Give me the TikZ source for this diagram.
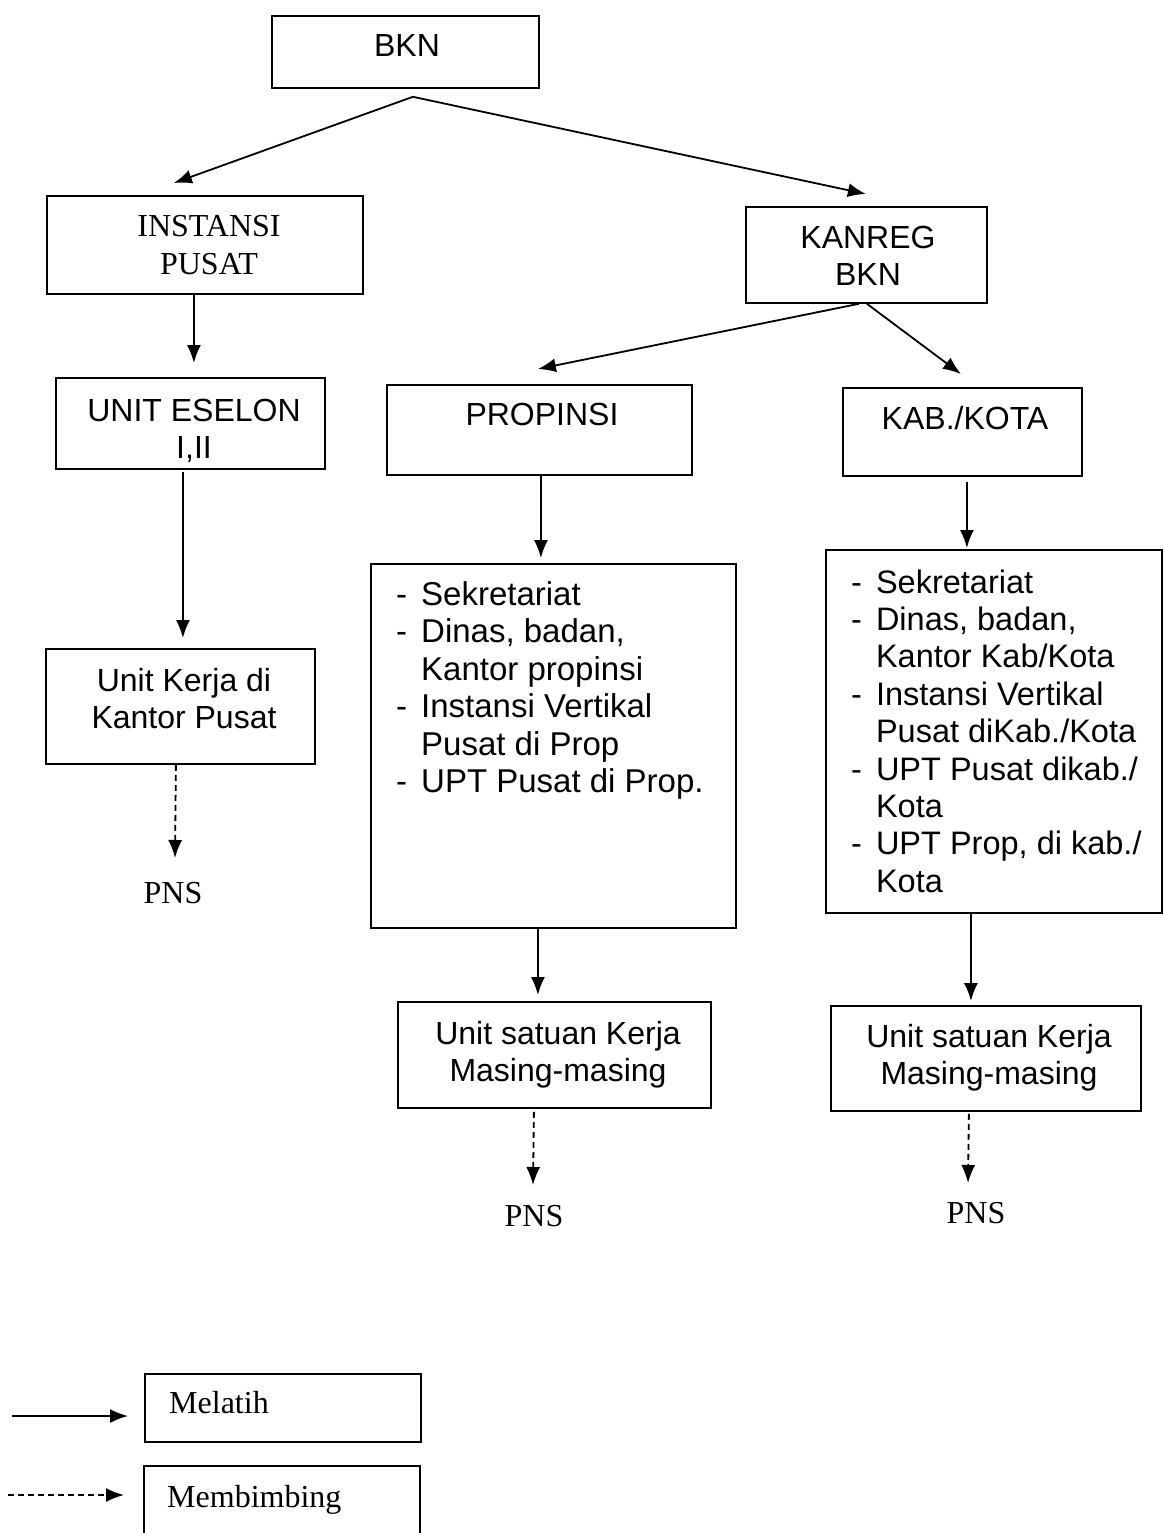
\documentclass[tikz,border=0pt]{standalone}
\usepackage{fontspec}
\setmainfont{Liberation Serif}
\setsansfont{Liberation Sans}
\usetikzlibrary{arrows.meta,calc}
\begin{document}
\begin{tikzpicture}[x=1pt,y=-1pt,
  box/.style={draw,line width=1.8pt,inner sep=0pt,anchor=north west},
  sanstxt/.style={font=\sffamily\fontsize{32}{37.5}\selectfont,inner sep=0pt},
  listtxt/.style={font=\sffamily\fontsize{33}{37.5}\selectfont,inner sep=0pt},
  klisttxt/.style={font=\sffamily\fontsize{32.5}{37.4}\selectfont,inner sep=0pt},
  seriftxt/.style={font=\rmfamily\fontsize{32}{38}\selectfont,inner sep=0pt},
  arr/.style={line width=1.8pt,-{Latex[length=18pt,width=14pt]}},
  darr/.style={arr,dash pattern=on 6pt off 4pt}]
\useasboundingbox (0,0) rectangle (1163,1533);
\fill[white] (0,0) rectangle (1163,1533);

% boxes
\node[box,minimum width=267,minimum height=72] (bkn) at (271,15) {};
\node[box,minimum width=316,minimum height=98] (inst) at (46,195) {};
\node[box,minimum width=241,minimum height=96] (kanreg) at (745,206) {};
\node[box,minimum width=269,minimum height=91] (unit) at (55,377) {};
\node[box,minimum width=305,minimum height=90] (prop) at (386,384) {};
\node[box,minimum width=239,minimum height=88] (kab) at (842,387) {};
\node[box,minimum width=269,minimum height=115] (ukerja) at (45,648) {};
\node[box,minimum width=365,minimum height=364] (plist) at (370,563) {};
\node[box,minimum width=336,minimum height=363] (klist) at (825,549) {};
\node[box,minimum width=313,minimum height=106] (psat) at (397,1001) {};
\node[box,minimum width=310,minimum height=105] (ksat) at (830,1005) {};
\node[box,minimum width=276,minimum height=68] (melatih) at (144,1373) {};
\node[box,minimum width=276,minimum height=80] (membimbing) at (143,1465) {};

% texts
\node[sanstxt,anchor=base] (bkn-t) at (407,57) {BKN};
\node[seriftxt,anchor=base] (inst-t) at (209,236) {\begin{tabular}[t]{@{}c@{}}INSTANSI\\PUSAT\end{tabular}};
\node[sanstxt,anchor=base] (kanreg-t) at (868,248) {\begin{tabular}[t]{@{}c@{}}KANREG\\BKN\end{tabular}};
\node[sanstxt,anchor=base] (unit-t) at (194,421) {\begin{tabular}[t]{@{}c@{}}UNIT ESELON\\I,II\end{tabular}};
\node[sanstxt,anchor=base] (prop-t) at (542,425) {PROPINSI};
\node[sanstxt,anchor=base] (kab-t) at (965,429) {KAB./KOTA};
\node[sanstxt,anchor=base] (ukerja-t) at (184,691) {\begin{tabular}[t]{@{}c@{}}Unit Kerja di\\Kantor Pusat\end{tabular}};
\node[listtxt,anchor=base west] (plist-t) at (396,605) {\begin{tabular}[t]{@{}l@{\hspace{14pt}}l@{}}
-&Sekretariat\\
-&Dinas, badan,\\
 &Kantor propinsi\\
-&Instansi Vertikal\\
 &Pusat di Prop\\
-&UPT Pusat di Prop.
\end{tabular}};
\node[klisttxt,anchor=base west] (klist-t) at (851,593) {\begin{tabular}[t]{@{}l@{\hspace{14pt}}l@{}}
-&Sekretariat\\
-&Dinas, badan,\\
 &Kantor Kab/Kota\\
-&Instansi Vertikal\\
 &Pusat diKab./Kota\\
-&UPT Pusat dikab./\\
 &Kota\\
-&UPT Prop, di kab./\\
 &Kota
\end{tabular}};
\node[sanstxt,anchor=base] (psat-t) at (558,1044) {\begin{tabular}[t]{@{}c@{}}Unit satuan Kerja\\Masing-masing\end{tabular}};
\node[sanstxt,anchor=base] (ksat-t) at (989,1047) {\begin{tabular}[t]{@{}c@{}}Unit satuan Kerja\\Masing-masing\end{tabular}};
\node[seriftxt,anchor=base] (pns1) at (173,903) {PNS};
\node[seriftxt,anchor=base] (pns2) at (534,1226) {PNS};
\node[seriftxt,anchor=base] (pns3) at (976,1223) {PNS};
\node[seriftxt,anchor=base west] (melatih-t) at (169,1413) {Melatih};
\node[seriftxt,anchor=base west] (membimbing-t) at (167,1507) {Membimbing};

% connectors
\coordinate (bkn-o) at ($(bkn.south)+(7.5,8)$);
\draw[arr] (bkn-o) -- ($(inst.north)+(-31,-12)$);
\draw[arr] (bkn-o) -- ($(kanreg.north)+(-0.5,-12)$);
\draw[arr] ($(inst.south)+(-11,0)$) -- ($(unit.north)+(3.5,-14)$);
\draw[arr] ($(unit.south)+(-7.5,2)$) -- ($(ukerja.north)+(2.5,-10)$);
\draw[darr] ($(ukerja.south)+(-4.5,0)$) -- ($(pns1.base)+(2,-45)$);
\draw[arr] ($(kanreg.south)+(-7.5,0)$) -- ($(prop.north)+(-1.5,-15)$);
\draw[arr] ($(kanreg.south)+(0.5,0)$) -- ($(kab.north)+(-1.5,-13)$);
\draw[arr] ($(prop.south)+(1.5,0)$) -- ($(plist.north)+(-12.5,-5)$);
\draw[arr] ($(kab.south)+(4.5,5)$) -- ($(klist.north)+(-27,-1)$);
\draw[arr] ($(plist.south)+(-15.5,0)$) -- ($(psat.north)+(-16.5,-6)$);
\draw[arr] ($(klist.south)+(-23,0)$) -- ($(ksat.north)+(-15,-4)$);
\draw[darr] ($(psat.south)+(-20.5,3)$) -- ($(pns2.base)+(-1,-41)$);
\draw[darr] ($(ksat.south)+(-17,2)$) -- ($(pns3.base)+(-8,-40)$);

% legend arrows
\coordinate (l1a) at (12,1416);
\coordinate (l1b) at (128,1416);
\coordinate (l2a) at (8,1495);
\coordinate (l2b) at (124,1495);
\draw[arr] (l1a) -- (l1b);
\draw[darr] (l2a) -- (l2b);
\end{tikzpicture}
\end{document}
